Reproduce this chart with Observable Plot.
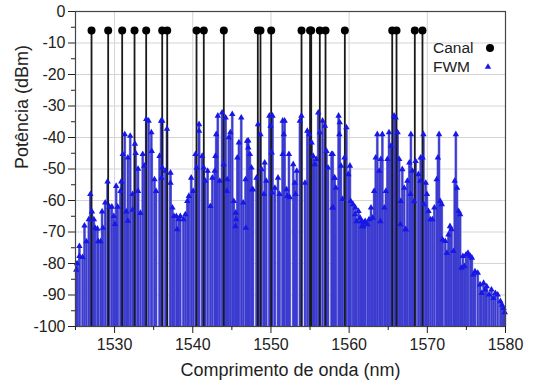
<!DOCTYPE html>
<html>
<head>
<meta charset="utf-8">
<script src="https://cdn.jsdelivr.net/npm/d3@7"></script>
<script src="https://cdn.jsdelivr.net/npm/@observablehq/plot@0.6"></script>
<style>
  html, body { margin: 0; padding: 0; background: #fff; }
  #wrap { position: relative; width: 534px; height: 385px; font-family: "Liberation Sans", Arial, sans-serif; }
  .leg { position: absolute; font-size: 15.5px; color: #222; line-height: 1; }
</style>
</head>
<body>
<div id="wrap"></div>
<script>
// ---- Data ----
const channelWl = [1527.05, 1529.18, 1530.97, 1532.55, 1534.04, 1536.09, 1536.73, 1540.48, 1541.41, 1543.97,
  1548.32, 1548.66, 1550.03, 1553.91, 1555.0, 1555.15, 1556.25, 1556.98, 1559.45, 1565.51, 1566.06, 1568.40, 1569.38];
const channelPow = [-6, -6, -6, -6, -6, -6, -6, -6, -6, -6, -6, -6, -6, -6, -6, -6, -6, -6, -6, -6, -6, -6, -6];

const fwmWl = [
  1525.1, 1525.2, 1525.5, 1525.5, 1525.9, 1526.15, 1526.4, 1526.7, 1526.9, 1527.1, 1527.35, 1527.5, 1527.8, 1527.9,
  1528.2, 1528.4, 1528.5, 1528.8, 1529.1, 1529.35, 1529.65, 1529.9, 1530.05, 1530.2, 1530.4, 1530.75, 1530.85,
  1531.05, 1531.3, 1531.5, 1531.7, 1531.7, 1532.0, 1532.3, 1532.3, 1532.6, 1532.7, 1533.0, 1533.0, 1533.3, 1533.6,
  1533.8, 1534.05, 1534.35, 1534.7, 1534.75, 1535.1, 1535.3, 1535.75, 1535.95, 1536.0,
  1536.1, 1536.7, 1536.1, 1536.5, 1537.15, 1537.15, 1537.4, 1537.6, 1537.9, 1538.0, 1538.2, 1538.4, 1538.8, 1539.05,
  1539.3, 1539.5, 1539.8, 1540.05, 1540.35, 1540.5, 1540.8, 1540.8, 1541.2, 1541.4, 1541.6, 1541.9, 1542.25, 1542.5,
  1542.8, 1542.9, 1543.0, 1543.2, 1543.45, 1543.75, 1543.95, 1544.2, 1544.4, 1544.6, 1544.8, 1545.05, 1545.25,
  1545.45, 1545.7, 1545.9, 1546.2, 1546.45, 1546.75, 1546.95, 1547.1,
  1547.1, 1547.3, 1547.5, 1547.7, 1548.15, 1548.35, 1548.65, 1548.8, 1549.2, 1549.4, 1549.8, 1549.95, 1550.2, 1550.1,
  1550.5, 1550.9, 1551.1, 1551.5, 1551.65, 1551.5, 1551.75, 1552.0, 1552.3, 1552.4, 1552.85, 1553.05, 1553.3, 1553.7,
  1553.9, 1554.35, 1554.65, 1554.9, 1555.2, 1555.4, 1555.6, 1555.8, 1556.05, 1556.25, 1556.6, 1556.9, 1557.1, 1557.3,
  1557.75, 1557.95, 1558.15,
  1557.9, 1558.1, 1558.3, 1558.65, 1558.8, 1558.75, 1558.95, 1559.15, 1559.4, 1559.65, 1559.9, 1560.1, 1560.2, 1560.5,
  1560.8, 1560.95, 1561.2, 1561.4, 1561.6, 1561.8, 1562.05, 1562.35, 1562.55, 1562.8, 1563.0, 1563.2, 1563.4, 1563.6,
  1563.85, 1564.05, 1564.25, 1564.5, 1564.7, 1564.9, 1565.1, 1565.35, 1565.75, 1565.95, 1566.2, 1566.4, 1566.6, 1566.8,
  1567.05, 1567.25, 1567.45, 1567.7, 1567.9, 1568.1, 1568.3, 1568.5, 1568.85, 1569.15,
  1569.5, 1569.4, 1569.1, 1569.8, 1569.95, 1570.15, 1570.4, 1570.65, 1570.9, 1571.2, 1571.35, 1571.5, 1571.65, 1571.85,
  1571.95, 1572.3, 1572.5, 1572.7, 1572.9, 1573.1, 1573.35, 1573.5, 1573.65, 1573.8, 1574.0, 1574.2, 1574.35, 1574.55,
  1574.75, 1574.95, 1575.2, 1575.5, 1575.7, 1575.9, 1576.1, 1576.45, 1576.75, 1576.95, 1577.2, 1577.4, 1577.6, 1577.9,
  1578.2, 1578.45, 1578.7, 1579.0, 1579.35, 1579.55, 1579.75, 1579.9,
  1545.5, 1545.55, 1546.8, 1549.1, 1552.1, 1553.15, 1544.35, 1547.6, 1550.15,
  1557.85, 1560.75, 1561.65, 1561.9, 1564.0, 1566.55, 1567.2, 1567.85, 1569.55
];
const fwmPow = [
  -82, -80, -74.5, -77.7, -78, -68, -73, -66, -58, -63.5, -66, -68.7, -69, -73,
  -73, -63.5, -68.7, -60.7, -54, -62, -62, -65, -67.5, -55.4, -62, -57, -54,
  -45.3, -39, -63.5, -66.5, -46.4, -39.5, -58, -63, -42, -45, -57, -50, -64, -45.3,
  -49, -34.2, -34.7, -38.4, -44.3, -53.3, -57, -45.9, -34.7, -52.8,
  -34.7, -37.3, -49.6, -50.6, -51.2, -54.4, -62.3, -65, -65, -69.2, -66, -65, -66, -64.4,
  -60.2, -58.6, -52.8, -57, -45.3, -49.6, -35.8, -37.9, -45.9, -49.6, -53.8, -50.6, -61.8, -52.8,
  -50.6, -45.9, -39, -33.1, -53.8, -32.1, -48.5, -33.7, -53.3, -40, -38.4, -32.6, -60.2,
  -68.2, -46.4, -41.6, -33.7, -60.7, -53.3, -41.1, -43.2,
  -41, -45.3, -49.6, -56.5, -52.8, -35.8, -39, -50.1, -48, -53.8, -33.1, -36.3, -33.1, -44.8,
  -56, -52.8, -58, -34.7, -39, -45.3, -34.7, -56.5, -45.3, -59, -48.5, -54.4, -50.6, -34.7,
  -33.1, -54.4, -37.9, -39, -41.6, -45.9, -48.5, -46.9, -32.1, -38.4, -34.7, -36.3, -44.3, -49.6,
  -45.3, -62.3, -52.8,
  -45.3, -52.8, -56, -33.1, -35.2, -39, -49, -59.6, -46.4, -36.8, -51.7, -49, -60.2, -61.2,
  -62.3, -66.6, -63.4, -65.5, -66.6, -68.2, -66.6, -67.6, -66, -62.3, -65.5, -57, -46.4, -39,
  -50.6, -46.9, -39, -62.3, -57, -46.9, -38.4, -42.7, -33.1, -33.7, -38.4, -46.9, -60.2, -50.1,
  -56, -69.2, -53.8, -48, -39, -50.6, -60.2, -47.5, -51.7, -46.4,
  -39, -46.4, -53.8, -54.4, -58, -63.4, -66, -66, -62.3, -53.3, -46.4, -39, -60.2, -61.2,
  -72.4, -72.9, -76.7, -70.8, -68.2, -69.2, -76.1, -53.8, -39, -56, -63.4, -64.4, -81.4, -77.7,
  -80.9, -77.2, -76.7, -77.7, -78.2, -83.5, -82.5, -83, -86.7, -89.4, -86.2, -88.3, -87.3, -89.9,
  -88.3, -91, -89.4, -89.9, -92, -93.1, -94.2, -95.5,
  -63.9, -66, -68.7, -58, -58.6, -58, -57, -56.5, -57.5,
  -62.3, -64.4, -68.2, -67, -66.6, -67.6, -69.2, -58, -61.2
];

const xTicks = [1530, 1540, 1550, 1560, 1570, 1580];
const xMinor = [1525, 1535, 1545, 1555, 1565, 1575];
const yTicks = [0, -10, -20, -30, -40, -50, -60, -70, -80, -90, -100];
const yMinor = [-5, -15, -25, -35, -45, -55, -65, -75, -85, -95];
const xDomain = [1525, 1580];
const yDomain = [-100, 0];

const channels = channelWl.map((wl, i) => ({wl, p: channelPow[i]}));
const fwm = fwmWl.map((wl, i) => ({wl, p: fwmPow[i]}));

const chart = Plot.plot({
  width: 534,
  height: 385,
  marginLeft: 75,
  marginRight: 29,
  marginTop: 11,
  marginBottom: 59,
  style: {fontFamily: "'Liberation Sans', Arial, sans-serif", fontSize: "16px", color: "#222", background: "#fff"},
  x: {domain: xDomain},
  y: {domain: yDomain},
  marks: [
    Plot.gridX(xTicks, {stroke: "#d4d4d4", strokeOpacity: 1}),
    Plot.gridY(yTicks, {stroke: "#d4d4d4", strokeOpacity: 1}),
    Plot.ruleX(fwm, {x: "wl", y1: yDomain[0], y2: "p", stroke: "#8c8ce0", strokeWidth: 2.8}),
    Plot.ruleX(fwm, {x: "wl", y1: yDomain[0], y2: "p", stroke: "#3b3bd0", strokeWidth: 1.8}),
    Plot.ruleX(channels, {x: "wl", y1: yDomain[0], y2: "p", stroke: "#1a1a1a", strokeWidth: 1.8}),
    Plot.dot(fwm, {x: "wl", y: "p", symbol: "triangle", r: 2.4, fill: "#1818e6", stroke: "none"}),
    Plot.dot(channels, {x: "wl", y: "p", r: 4, fill: "#000", stroke: "none"}),
    Plot.frame({stroke: "#444", strokeWidth: 1.2}),
    Plot.axisX({ticks: xTicks, tickSize: 7, tickPadding: 5, tickFormat: d => String(d), label: null, fontSize: 16}),
    Plot.axisX({ticks: xMinor, tickSize: 4, tickFormat: () => "", label: null}),
    Plot.axisY({ticks: yTicks, tickSize: 7, tickPadding: 3, tickFormat: d => String(d), label: null, fontSize: 16}),
    Plot.axisY({ticks: yMinor, tickSize: 4, tickFormat: () => "", label: null}),
    Plot.text(["Comprimento de onda (nm)"], {frameAnchor: "bottom", dy: 49, fontSize: 18, fill: "#222"}),
    Plot.text(["Potência (dBm)"], {frameAnchor: "left", dx: -53, rotate: -90, fontSize: 18, fill: "#222"})
  ]
});

const wrap = document.getElementById("wrap");
wrap.appendChild(chart);

// Legend (inside the plot, top right)
const legendItems = [
  {label: "Canal", top: 40, sym: "dot"},
  {label: "FWM", top: 59, sym: "tri"}
];
legendItems.forEach(it => {
  const t = document.createElement("div");
  t.className = "leg";
  t.style.left = "433px";
  t.style.top = it.top + "px";
  t.textContent = it.label;
  wrap.appendChild(t);
});
const ns = "http://www.w3.org/2000/svg";
const legSvg = document.createElementNS(ns, "svg");
legSvg.setAttribute("width", "20");
legSvg.setAttribute("height", "40");
legSvg.style.position = "absolute";
legSvg.style.left = "479px";
legSvg.style.top = "38px";
const c = document.createElementNS(ns, "circle");
c.setAttribute("cx", "11"); c.setAttribute("cy", "10"); c.setAttribute("r", "4"); c.setAttribute("fill", "#000");
legSvg.appendChild(c);
const tri = document.createElementNS(ns, "path");
tri.setAttribute("d", d3.symbol(d3.symbolTriangle, 18)());
tri.setAttribute("transform", "translate(9,29)");
tri.setAttribute("fill", "#1818e6");
legSvg.appendChild(tri);
wrap.appendChild(legSvg);
</script>
</body>
</html>
